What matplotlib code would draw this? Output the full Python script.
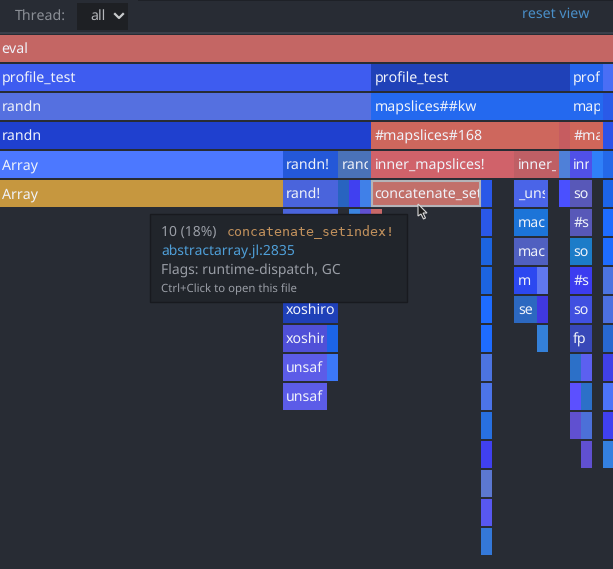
import matplotlib
matplotlib.use('Agg')
import matplotlib.pyplot as plt
from matplotlib.patches import Rectangle, Polygon

plt.rcParams['font.family'] = ['Noto Sans', 'DejaVu Sans']
plt.rcParams['text.hinting'] = 'no_autohint'

# flame graph frames, one inner list per row, x in samples
starts = [
    [0],
    [0, 34, 52, 55],
    [0, 34, 52, 55],
    [0, 34, 51, 52, 55],
    [0, 26, 31, 34, 47, 51, 52, 54, 55],
    [0, 26, 31, 32, 33, 34, 44, 47, 51, 52, 55],
    [26, 32, 33, 34, 44, 47, 52, 55],
    [26, 44, 47, 52, 55],
    [26, 44, 47, 49, 52, 55],
    [26, 44, 47, 49, 52, 55],
    [26, 30, 44, 49, 52, 55],
    [26, 30, 44, 52, 53, 55],
    [26, 44, 52, 53, 55],
    [44, 52, 53, 55],
    [44, 53, 55],
    [44],
    [44],
    [44],
]
widths = [
    [56],
    [34, 18, 3, 1],
    [34, 18, 3, 1],
    [34, 17, 1, 3, 1],
    [26, 5, 3, 13, 4, 1, 2, 1, 1],
    [26, 5, 1, 1, 1, 10, 1, 3, 1, 2, 1],
    [5, 1, 1, 1, 1, 3, 2, 1],
    [5, 1, 3, 2, 1],
    [5, 1, 2, 1, 2, 1],
    [5, 1, 2, 1, 2, 1],
    [4, 1, 1, 1, 2, 1],
    [4, 1, 1, 1, 1, 1],
    [4, 1, 1, 1, 1],
    [1, 1, 1, 1],
    [1, 1, 1],
    [1],
    [1],
    [1],
]
colors = [
    ['#c46664'],
    ['#3e5cf0', '#1f41b8', '#2563eb', '#4a6ef5'],
    ['#5570e0', '#2469ef', '#2469ef', '#2a5ae8'],
    ['#1f40cf', '#ce675d', '#c65c60', '#d0665a', '#2c52e8'],
    ['#4c78ff', '#2458d8', '#4a72b8', '#d0626a', '#bf5f65', '#4f80d8', '#5050e8', '#2f80f8', '#2468e8'],
    ['#c6973f', '#4a64dc', '#2864c0', '#4040f0', '#4080e8', '#c2706a', '#2a58e8', '#4a64e8', '#4a50ff', '#5858b8', '#1c64e8'],
    ['#4a64dc', '#3a84e0', '#6050d0', '#c86868', '#2a58e8', '#1c74d8', '#5858b8', '#1e6cff'],
    ['#4a64dc', '#1c64e0', '#5060c0', '#1c7cc8', '#1e6cff'],
    ['#4a64dc', '#1c64e0', '#2c48f0', '#6078f0', '#3c3cf0', '#4c74e0'],
    ['#1f40b8', '#1e6cff', '#2c68c0', '#4038e0', '#4050e0', '#4c70e0'],
    ['#5050d8', '#1c64e8', '#1e6cff', '#3480d8', '#3848b8', '#2868d0'],
    ['#5c5ce8', '#3c78f8', '#4c74e0', '#2c70c8', '#5c60f0', '#4040e8'],
    ['#5c5ce8', '#4c74e8', '#5c50ff', '#2c70c8', '#4c74f8'],
    ['#2870e0', '#6050d0', '#4c70d8', '#4040f0'],
    ['#4040f0', '#6050d0', '#3480e0'],
    ['#5c78d0'],
    ['#5858f0'],
    ['#3478d8'],
]
# labels as far as they fit in their frames
labels = [
    ['eval'],
    ['profile_test', 'profile_test', 'prof', ''],
    ['randn', 'mapslices##kw', 'map', ''],
    ['randn', '#mapslices#168', '', '#ma', ''],
    ['Array', 'randn!', 'rand', 'inner_mapslices!', 'inner_', '', 'inn', '', ''],
    ['Array', 'rand!', '', '', '', 'concatenate_set', '', '_uns', '', 'so', ''],
    ['', '', '', '', '', 'mac', '#s', ''],
    ['', '', 'mac', 'so', ''],
    ['', '', 'm', '', '#s', ''],
    ['xoshiro', '', 'se', '', 'so', ''],
    ['xoshir', '', '', '', 'fp', ''],
    ['unsaf', '', '', '', '', ''],
    ['unsaf', '', '', '', ''],
    ['', '', '', ''],
    ['', '', ''],
    [''],
    [''],
    [''],
]

BG = '#282c34'
PX_PER_SAMPLE = 11.04
ROW_PX = 29
TOP_PX = 35

fig = plt.figure(figsize=(6.13, 5.69), dpi=100, facecolor=BG)

ax = fig.add_axes([0, 0, 1, 1], facecolor=BG)
ax.set_xlim(0.4, 0.4 + 613 / PX_PER_SAMPLE)
ax.set_ylim((569 - TOP_PX) / ROW_PX, -TOP_PX / ROW_PX)
ax.axis('off')

bar_h = 27 / ROW_PX
for row in range(len(starts)):
    for s, w, c, lab in zip(starts[row], widths[row], colors[row], labels[row]):
        ax.add_patch(Rectangle((s, row), w, bar_h, facecolor=c, edgecolor='none', zorder=2))
        if lab:
            if s == 0:
                x = 0.4 + 1.5 / PX_PER_SAMPLE
            else:
                x = s + 3.5 / PX_PER_SAMPLE
            t = ax.text(x, row + bar_h / 2 + 1 / ROW_PX, lab, color='#f0f3fa', fontsize=10.2,
                        va='center', ha='left', zorder=4)
            clip = Rectangle((s, row), w - 2.5 / PX_PER_SAMPLE, bar_h, transform=ax.transData)
            t.set_clip_path(clip)
            t.set_clip_on(True)

# selected frame outline
sel_row, sel_idx = 5, 5
ax.add_patch(Rectangle((starts[sel_row][sel_idx] + 1 / PX_PER_SAMPLE, sel_row + 1 / ROW_PX),
                       widths[sel_row][sel_idx] - 2 / PX_PER_SAMPLE, bar_h - 2 / ROW_PX,
                       facecolor='none', edgecolor='#b4b4b8', linewidth=1.5, zorder=3))

# header and tooltip in pixel coordinates
ui = fig.add_axes([0, 0, 1, 1], facecolor='none')
ui.set_xlim(0, 613)
ui.set_ylim(569, 0)
ui.axis('off')

ui.add_patch(Rectangle((0, 32), 613, 1.5, facecolor='#3a3f4a', edgecolor='none'))
ui.add_patch(Rectangle((138, 0), 475, 1, facecolor='#1e2127', edgecolor='none'))
ui.text(15, 16, 'Thread:', color='#8b8f96', fontsize=10.2, va='center')
ui.add_patch(Rectangle((77, 3), 51, 27, facecolor='#1e2024', edgecolor='none'))
ui.text(90, 16, 'all', color='#b4b6ba', fontsize=10.2, va='center')
ui.plot([115, 119, 123], [14, 18, 14], color='#c8cacc', lw=1.6)
ui.text(522, 14, 'reset view', color='#4a8fc8', fontsize=10.2, va='center')

ui.add_patch(Rectangle((150, 214), 257, 88, facecolor='#21252b', edgecolor='#181a1f', linewidth=1))
ui.text(161, 232, '10 (18%)', color='#9a9ea6', fontsize=10, va='center')
ui.text(227, 232, 'concatenate_setindex!', color='#c0905c', fontsize=9.6, va='center',
        family=['DejaVu Sans Mono'])
ui.text(161, 251, 'abstractarray.jl:2835', color='#4f9fd8', fontsize=10, va='center')
ui.text(161, 270, 'Flags: runtime-dispatch, GC', color='#9a9ea6', fontsize=10, va='center')
ui.text(161, 289, 'Ctrl+Click to open this file', color='#9a9ea6', fontsize=8.2, va='center')

# mouse cursor
ui.add_patch(Polygon([(418, 204), (418, 216), (421, 214), (423.5, 219), (425.5, 218), (423, 213), (427, 213)],
                     closed=True, facecolor='#1c1c1c', edgecolor='#d8d8d8', linewidth=0.8))

fig.savefig('out.png', dpi=100, facecolor=BG)
